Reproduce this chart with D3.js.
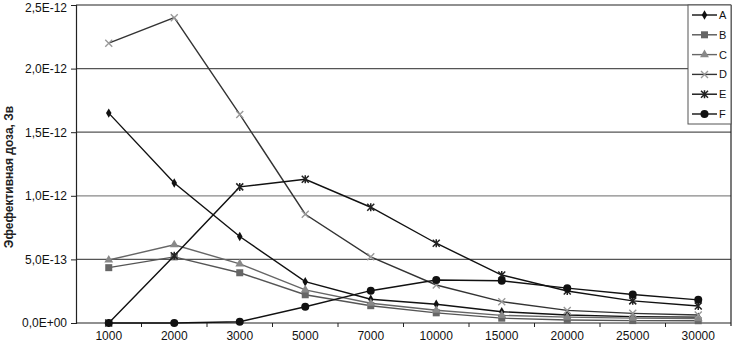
<!DOCTYPE html>
<html><head><meta charset="utf-8">
<script src="https://cdn.jsdelivr.net/npm/d3@7/dist/d3.min.js"></script>
<style>body{margin:0;background:#fff}svg{display:block;font-family:"Liberation Sans",Arial,sans-serif}</style>
</head><body><svg id="c" width="733" height="343"></svg>
<script>
const categories = ["1000","2000","3000","5000","7000","10000","15000","20000","25000","30000"];
const seriesA = [1.65e-12,1.10e-12,6.8e-13,3.25e-13,1.87e-13,1.47e-13,8.9e-14,6.3e-14,5.0e-14,4.6e-14];
const seriesB = [4.35e-13,5.2e-13,3.95e-13,2.22e-13,1.36e-13,8.0e-14,3.8e-14,2.4e-14,1.9e-14,1.8e-14];
const seriesC = [4.95e-13,6.15e-13,4.65e-13,2.6e-13,1.55e-13,1.0e-13,6.0e-14,4.6e-14,3.8e-14,3.4e-14];
const seriesD = [2.2e-12,2.4e-12,1.64e-12,8.55e-13,5.2e-13,2.99e-13,1.68e-13,9.9e-14,7.6e-14,6.3e-14];
const seriesE = [0,5.28e-13,1.07e-12,1.13e-12,9.1e-13,6.27e-13,3.77e-13,2.52e-13,1.74e-13,1.34e-13];
const seriesF = [0,0,1.0e-14,1.28e-13,2.54e-13,3.38e-13,3.32e-13,2.74e-13,2.24e-13,1.82e-13];
const yTicks = [0,5e-13,1e-12,1.5e-12,2e-12,2.5e-12];
const yTickLabels = ["0,0E+00","5,0E-13","1,0E-12","1,5E-12","2,0E-12","2,5E-12"];
const seriesNames = ["A","B","C","D","E","F"];
const yTitle = "Эфефективная доза, Зв";

const series = [
  {name:"A", values:seriesA, line:"#111", marker:"diamond", mfill:"#111"},
  {name:"B", values:seriesB, line:"#555", marker:"square", mfill:"#666"},
  {name:"C", values:seriesC, line:"#666", marker:"triangle", mfill:"#888"},
  {name:"D", values:seriesD, line:"#333", marker:"cross", mfill:"#999"},
  {name:"E", values:seriesE, line:"#111", marker:"star", mfill:"#222"},
  {name:"F", values:seriesF, line:"#111", marker:"circle", mfill:"#111"}
];

const svg = d3.select("#c");
const L=76, R=731, T=5, B=323;
const x = d3.scaleBand().domain(categories).range([L,R]);
const y = d3.scaleLinear().domain([0,2.5e-12]).range([B,T]);
const cx = c => x(c)+x.bandwidth()/2;

// gridlines
svg.append("g").selectAll("line").data(yTicks.slice(1)).join("line")
  .attr("x1",L).attr("x2",R).attr("y1",d=>y(d)).attr("y2",d=>y(d))
  .attr("stroke",(d,i)=> i===yTicks.length-2 ? "#222" : (i===1 ? "#888" : "#555")).attr("stroke-width",1.2);
// right border
svg.append("line").attr("x1",R).attr("x2",R).attr("y1",T).attr("y2",B+3).attr("stroke","#222").attr("stroke-width",1.2);

// y axis
const yAxis = d3.axisLeft(y).tickValues(yTicks).tickFormat((d,i)=>yTickLabels[i]).tickSize(5).tickPadding(4);
const ya = svg.append("g").attr("transform",`translate(${L},0)`).call(yAxis);
ya.select(".domain").attr("stroke","#222").attr("stroke-width",1.2);
ya.selectAll(".tick line").attr("stroke","#222");
ya.selectAll("text").attr("font-size",12).attr("fill","#111").attr("font-family","Liberation Sans, Arial, sans-serif");
ya.selectAll(".tick").filter(d=>d===yTicks[yTicks.length-1]).select("text").attr("dy","0.55em");

// x axis
const xa = svg.append("g").attr("transform",`translate(0,${B})`).call(d3.axisBottom(x).tickSize(0).tickPadding(8));
xa.select(".domain").remove();
xa.selectAll("text").attr("font-size",12).attr("fill","#111").attr("font-family","Liberation Sans, Arial, sans-serif");
svg.append("line").attr("x1",L).attr("x2",R).attr("y1",B).attr("y2",B).attr("stroke","#222").attr("stroke-width",1.2);
svg.append("g").selectAll("line").data(categories.slice(1)).join("line")
  .attr("x1",d=>x(d)).attr("x2",d=>x(d)).attr("y1",B).attr("y2",B+4).attr("stroke","#222");

// y title
svg.append("text").attr("transform",`translate(13,177) rotate(-90)`).attr("text-anchor","middle")
  .attr("font-size",12).attr("font-weight","bold").attr("fill","#222").text(yTitle);

function drawMarker(g, type, px, py, fill){
  if(type==="diamond"){
    g.append("path").attr("d",d3.symbol(d3.symbolDiamond,26)()).attr("transform",`translate(${px},${py})`).attr("fill",fill);
  } else if(type==="square"){
    g.append("rect").attr("x",px-3.5).attr("y",py-3.5).attr("width",7).attr("height",7).attr("fill",fill);
  } else if(type==="triangle"){
    g.append("path").attr("d",d3.symbol(d3.symbolTriangle,34)()).attr("transform",`translate(${px},${py})`).attr("fill",fill);
  } else if(type==="cross"){
    g.append("path").attr("d",`M${px-3.5},${py-3.5}L${px+3.5},${py+3.5}M${px-3.5},${py+3.5}L${px+3.5},${py-3.5}`).attr("stroke",fill).attr("stroke-width",1.4).attr("fill","none");
  } else if(type==="star"){
    g.append("path").attr("d",`M${px-3.5},${py-3.5}L${px+3.5},${py+3.5}M${px-3.5},${py+3.5}L${px+3.5},${py-3.5}M${px},${py-4}L${px},${py+4}`).attr("stroke",fill).attr("stroke-width",1.5).attr("fill","none");
  } else if(type==="circle"){
    g.append("circle").attr("cx",px).attr("cy",py).attr("r",4).attr("fill",fill);
  }
}

const line = d3.line().x((d,i)=>cx(categories[i])).y(d=>y(d));
series.forEach(s=>{
  const g = svg.append("g");
  g.append("path").attr("d",line(s.values)).attr("fill","none").attr("stroke",s.line).attr("stroke-width",1.4);
  s.values.forEach((v,i)=>drawMarker(g,s.marker,cx(categories[i]),y(v),s.mfill));
});

// legend
const lg = svg.append("g");
lg.append("rect").attr("x",688).attr("y",T).attr("width",R-688).attr("height",119).attr("fill","#fff").attr("stroke","#555").attr("stroke-width",1);
series.forEach((s,i)=>{
  const ly = 15 + i*19.8;
  lg.append("line").attr("x1",692).attr("x2",717).attr("y1",ly).attr("y2",ly).attr("stroke",s.line).attr("stroke-width",1.4);
  drawMarker(lg,s.marker,704.5,ly,s.mfill);
  lg.append("text").attr("x",719).attr("y",ly+4).attr("font-size",11).attr("fill","#111").text(seriesNames[i]);
});
</script></body></html>
